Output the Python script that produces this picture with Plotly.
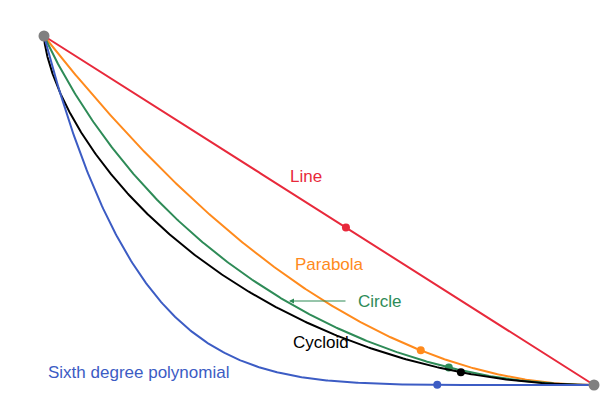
import numpy as np
import plotly.graph_objects as go

names = ["Line", "Parabola", "Circle", "Cycloid", "Sixth degree polynomial"]
colors = ["#e8293b", "#ff8a1c", "#2e8b57", "#000000", "#3c5cc4"]
dot_x = [0.549, 0.685, 0.736, 0.758, 0.715]
endpoints_x = [0.0, 1.0]
endpoints_y = [0.0, -1.0]
aspect = 550 / 349  # width/height of the real plane

def curve(name, x):
    if name == "Line":
        return x, -x
    if name == "Parabola":
        return x, -(2 * x - x ** 2)
    if name == "Circle":
        a = aspect
        r = (a * a + 1) / 2
        X = x * a
        return x, -(-(r - 1) + np.sqrt(r * r - (X - a) ** 2))
    if name == "Sixth degree polynomial":
        return x, -(1 - (1 - x) ** 6)

fig = go.Figure()
xs = np.linspace(0, 1, 400)
for n, c, dx in zip(names, colors, dot_x):
    if n == "Cycloid":
        th = np.linspace(0, np.pi, 400)
        cx = (th - np.sin(th)) / np.pi
        cy = -(1 - np.cos(th)) / 2
        dy = np.interp(dx, cx, cy)
    else:
        cx, cy = curve(n, xs)
        dy = curve(n, np.array([dx]))[1][0]
    fig.add_trace(go.Scatter(x=cx, y=cy, mode="lines", line=dict(color=c, width=2), hoverinfo="skip"))
    fig.add_trace(go.Scatter(x=[dx], y=[dy], mode="markers", marker=dict(color=c, size=8)))

fig.add_trace(go.Scatter(x=endpoints_x, y=endpoints_y, mode="markers", marker=dict(color="#808080", size=11)))

def px(x): return (x - 43) / 550
def py(y): return -(y - 35) / 349

labels = [("Line", 305, 175, colors[0]), ("Parabola", 328, 263, colors[1]), ("Circle", 378, 300, colors[2]),
          ("Cycloid", 320, 341, colors[3]), ("Sixth degree polynomial", 137, 371, colors[4])]
for t, x, y, c in labels:
    fig.add_annotation(x=px(x), y=py(y), text=t, showarrow=False, font=dict(family="Liberation Sans, Arial", size=17, color=c))
fig.add_annotation(x=px(288), y=py(300), ax=px(346), ay=py(300), axref="x", ayref="y", xref="x", yref="y",
                   text="", showarrow=True, arrowhead=2, arrowsize=1, arrowwidth=1, arrowcolor=colors[2])

fig.update_layout(width=616, height=416, margin=dict(l=0, r=0, t=0, b=0), showlegend=False,
                  paper_bgcolor="white", plot_bgcolor="white",
                  xaxis=dict(range=[-36 / 550, 1 + 30 / 550], visible=False),
                  yaxis=dict(range=[-1 - 39 / 349, 28 / 349], visible=False))
fig.write_html("out.html")
